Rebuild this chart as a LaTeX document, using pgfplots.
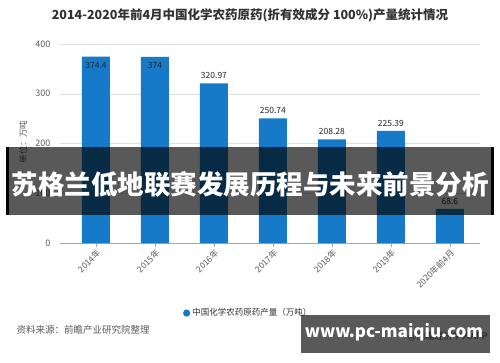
\documentclass[border=0pt]{standalone}
\usepackage{pgfplots}
\pgfplotsset{compat=1.18}
\usepackage{fontspec}
\setmainfont{Noto Sans CJK SC}
\definecolor{barblue}{RGB}{22,122,200}
\definecolor{txtgray}{RGB}{90,90,90}
\definecolor{titlegray}{RGB}{50,50,50}
\begin{document}
\begin{tikzpicture}
\path[use as bounding box] (0pt,0pt) rectangle (500pt,-362pt);
\fill[white] (0pt,0pt) rectangle (500pt,-362pt);
\node[font=\bfseries\fontsize{12.5}{14}\selectfont, text=titlegray] at (250pt,-15pt) {2014-2020年前4月中国化学农药原药(折有效成分 100\%)产量统计情况};
\begin{axis}[
  at={(60pt,-243pt)}, anchor=south west,
  scale only axis, width=420pt, height=199pt,
  xmin=-0.61, xmax=6.51, ymin=0, ymax=400,
  ytick={0,100,200,300,400},
  xtick={0,1,2,3,4,5,6},
  xticklabels={2014年,2015年,2016年,2017年,2018年,2019年,2020年前4月},
  axis lines*=left,
  y axis line style={draw=none},
  x axis line style={draw=gray!70},
  ymajorgrids, grid style={draw=gray!25},
  major tick length=4pt,
  ytick style={draw=none},
  xtick style={draw=gray!70},
  tick align=outside,
  /pgf/number format/assume math mode=true,
  yticklabel style={font=\fontsize{9}{10}\selectfont, text=txtgray, xshift=-2pt},
  xticklabel style={rotate=45, anchor=north east, font=\fontsize{8.5}{9}\selectfont, text=txtgray, inner sep=1pt},
  legend style={at={(0.448,-0.352)}, anchor=center, draw=none, fill=none, font=\fontsize{8.5}{9}\selectfont, text=titlegray},
  clip=false,
]
\addplot[ybar, bar width=28pt, fill=barblue, draw=none,
  legend image code/.code={\fill[barblue] (0.25em,0pt) circle (3.6pt);}]
  table[x=x, y=y] {
x y
0 374.4
1 374
2 320.97
3 250.74
4 208.28
5 225.39
6 68.6
};
\addlegendentry{中国化学农药原药产量（万吨）}
\addplot[only marks, mark=none, nodes near coords, point meta=explicit symbolic,
  nodes near coords style={font=\fontsize{8.5}{9}\selectfont, text=black!85, anchor=south, yshift=1pt}]
  table[x=x, y=y, meta=l] {
x y l
2 320.97 320.97
3 250.74 250.74
4 208.28 208.28
5 225.39 225.39
6 68.6 68.6
};
\addplot[only marks, mark=none, nodes near coords, point meta=explicit symbolic,
  nodes near coords style={font=\fontsize{8.5}{9}\selectfont, text=black!85, anchor=north, yshift=-2pt}]
  table[x=x, y=y, meta=l] {
x y l
0 374.4 374.4
1 374 374
};
\end{axis}
\node[rotate=90, font=\fontsize{8.5}{9}\selectfont, text=txtgray] at (23pt,-142pt) {单位：万吨};
\node[anchor=west, font=\fontsize{9.5}{10}\selectfont, text=txtgray] at (13pt,-330pt) {资料来源：前瞻产业研究院整理};
\node[anchor=east, font=\fontsize{9}{10}\selectfont, text=txtgray] at (491pt,-336pt) {@前瞻经济学人APP};
% overlay banner
\fill[black, opacity=0.65] (7pt,-147pt) rectangle (493pt,-215pt);
\fill[black] (6pt,-147pt) rectangle (8.5pt,-215pt);
\fill[black] (491pt,-147pt) rectangle (493.5pt,-215pt);
\node[font=\bfseries\fontsize{26.5}{28}\selectfont, text=white] at (250pt,-184pt) {苏格兰低地联赛发展历程与未来前景分析};
% watermark box
\fill[black, opacity=0.65] (301pt,-315pt) rectangle (490pt,-353pt);
\node[font=\bfseries\fontsize{17}{18}\selectfont, text=white] at (394pt,-332pt) {www.pc-maiqiu.com};
\end{tikzpicture}
\end{document}
